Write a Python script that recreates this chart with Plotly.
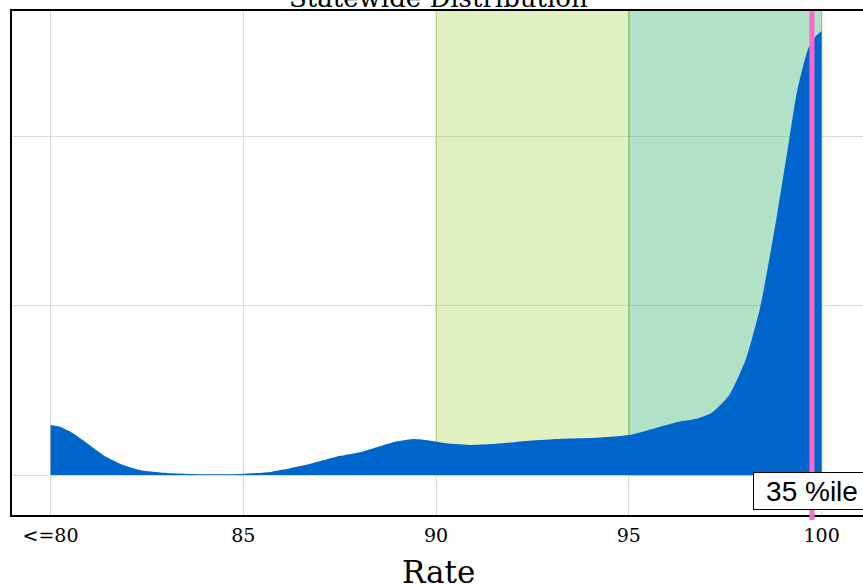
import plotly.graph_objects as go

# Density curve of statewide rates (x = rate, y = density)
rate = [80.0, 80.23, 80.57, 81.01, 81.45, 81.87, 82.31, 83.16, 84.04, 84.90,
        85.75, 86.63, 87.49, 88.08, 88.96, 89.38, 89.82, 90.26, 90.93, 91.55,
        92.41, 93.26, 94.15, 95.0, 95.52, 96.30, 96.75, 97.15, 97.59, 98.03, 98.41,
        98.84, 99.17, 99.36, 99.65, 99.84, 99.93, 100.0]
density = [0.0148, 0.0143, 0.0124, 0.0089, 0.0053, 0.0030, 0.0015, 0.0005, 0.0002, 0.0003,
           0.0010, 0.0030, 0.0056, 0.0069, 0.0099, 0.0106, 0.0102, 0.0094, 0.0089, 0.0092,
           0.0101, 0.0107, 0.0110, 0.0118, 0.0133, 0.0157, 0.0166, 0.0184, 0.0233, 0.0340, 0.0497,
           0.0765, 0.0997, 0.1130, 0.1258, 0.1294, 0.1304, 0.1311]

tick_vals = [80, 85, 90, 95, 100]
tick_text = ["<=80", "85", "90", "95", "100"]

band_light = [90, 95]
band_green = [95, 100]
percentile_rate = 99.75
percentile_label = "35 %ile"
chart_title = "Statewide Distribution"
x_title = "Rate"

fig = go.Figure()
fig.add_trace(go.Scatter(
    x=rate, y=density, mode="lines", fill="tozeroy",
    line=dict(width=0, shape="spline", smoothing=0.6, color="#0066CC"),
    fillcolor="#0066CC", hoverinfo="skip", showlegend=False,
))

fig.add_shape(type="rect", xref="x", yref="y", x0=band_light[0], x1=band_light[1],
              y0=0, y1=0.2, fillcolor="rgba(154,205,50,0.30)",
              line=dict(color="rgba(154,205,50,0.40)", width=1.5), layer="between")
fig.add_shape(type="rect", xref="x", yref="y", x0=band_green[0], x1=band_green[1],
              y0=0, y1=0.2, fillcolor="rgba(60,179,113,0.40)",
              line=dict(color="rgba(120,190,90,0.55)", width=1.5), layer="between")
fig.add_shape(type="line", xref="x", yref="paper", x0=percentile_rate, x1=percentile_rate,
              y0=-0.01, y1=1, line=dict(color="#FF66CC", width=5), layer="above")

fig.add_annotation(x=percentile_rate, xref="x", y=0.0467, yref="paper",
                   text=percentile_label, showarrow=False,
                   font=dict(family="Liberation Sans, Arial, sans-serif", size=28, color="black"),
                   bgcolor="white", bordercolor="black", borderwidth=1,
                   width=114, height=34, borderpad=1, xanchor="center", yanchor="middle")

fig.add_annotation(x=0.5, xref="paper", y=1, yref="paper", yanchor="middle", yshift=13,
                   text=chart_title, showarrow=False,
                   font=dict(family="DejaVu Serif, serif", size=26, color="black"))

fig.add_annotation(x=0.5, xref="paper", y=0, yref="paper", yanchor="middle", yshift=-57,
                   text=x_title, showarrow=False,
                   font=dict(family="DejaVu Serif, serif", size=31, color="black"))

fig.update_layout(
    width=866, height=585,
    margin=dict(l=12, r=0, t=11, b=70),
    paper_bgcolor="white", plot_bgcolor="white",
    font=dict(family="DejaVu Serif, serif", color="black"),
    xaxis=dict(range=[79, 101.1], tickvals=tick_vals, ticktext=tick_text,
               showgrid=True, gridcolor="#d9d9d9", gridwidth=1,
               zeroline=False, showline=True, linecolor="black", linewidth=2, mirror=True,
               ticks="outside", ticklen=2, tickcolor="rgba(0,0,0,0)",
               tickfont=dict(family="DejaVu Serif, serif", size=19, color="black")),
    yaxis=dict(range=[-0.0118, 0.137], tick0=0, dtick=0.05, showticklabels=False,
               showgrid=True, gridcolor="#d9d9d9", gridwidth=1,
               zeroline=True, zerolinecolor="#d9d9d9", zerolinewidth=1,
               showline=True, linecolor="black", linewidth=2, mirror=True, ticks=""),
)

fig.write_html("out.html", config={"displayModeBar": False},
               post_script="document.body.style.margin='0';document.body.style.overflow='hidden';")
